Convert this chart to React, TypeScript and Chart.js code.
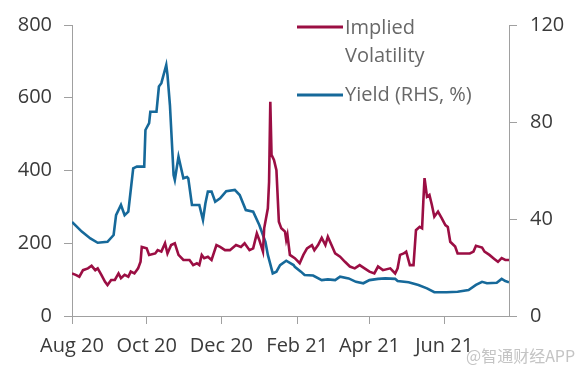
import React, { useEffect, useRef } from 'react';
import { Chart, registerables } from 'chart.js';

Chart.register(...registerables);

// x values are days since 1 Aug 2020
const ivDays = [0, 3, 6, 9, 13, 16, 19, 21, 24, 27, 29, 32, 35, 38, 40, 43, 46, 48, 51, 54, 56, 57, 61, 63, 68, 70, 73, 76, 78, 81, 84, 87, 91, 94, 96, 99, 102, 104, 106, 108, 111, 114, 118, 121, 125, 129, 134, 138, 141, 145, 148, 151, 153, 156, 157, 160, 161, 162, 163, 165, 167, 169, 171, 174, 175, 176, 178, 182, 186, 189, 192, 196, 198, 201, 204, 207, 209, 212, 215, 219, 223, 227, 231, 235, 239, 243, 247, 250, 254, 260, 264, 266, 268, 271, 273, 276, 279, 281, 284, 286, 287, 288, 290, 292, 294, 296, 299, 302, 305, 307, 309, 313, 315, 320, 325, 328, 330, 335, 337, 341, 345, 348, 351, 354, 357];
const ivValues = [117, 113, 108, 126, 131, 138, 126, 131, 113, 94, 85, 99, 99, 117, 104, 113, 108, 122, 117, 131, 149, 190, 186, 168, 172, 181, 177, 200, 172, 195, 200, 168, 154, 154, 154, 140, 145, 140, 168, 159, 163, 154, 195, 190, 181, 181, 195, 190, 200, 181, 186, 227, 209, 177, 241, 296, 369, 589, 443, 429, 401, 259, 241, 232, 209, 223, 168, 159, 145, 168, 186, 195, 181, 195, 215, 195, 218, 195, 172, 163, 149, 136, 131, 140, 131, 122, 117, 136, 126, 131, 117, 131, 168, 172, 177, 140, 140, 236, 245, 241, 314, 379, 328, 333, 305, 273, 287, 269, 250, 245, 204, 191, 172, 172, 172, 177, 193, 188, 177, 168, 157, 149, 159, 154, 154];

const yieldDays = [0, 8, 15, 21, 29, 34, 36, 40, 43, 46, 50, 53, 59, 60, 63, 64, 69, 71, 73, 77, 78, 80, 83, 84, 87, 91, 94, 95, 98, 104, 107, 109, 111, 114, 117, 121, 126, 133, 137, 142, 148, 153, 158, 160, 164, 167, 170, 175, 181, 182, 187, 190, 197, 204, 209, 215, 219, 226, 232, 238, 243, 250, 256, 264, 266, 275, 283, 290, 296, 306, 315, 324, 330, 335, 339, 347, 351, 354, 357];
const yieldValues = [38.8, 34.8, 32.0, 30.2, 30.6, 33.4, 41.6, 45.8, 41.6, 43.0, 60.9, 61.6, 61.6, 76.7, 79.5, 84.2, 84.2, 94.6, 96.0, 103.5, 99.4, 87.0, 58.1, 56.1, 65.7, 56.8, 57.3, 56.8, 45.8, 45.8, 39.6, 46.5, 51.3, 51.3, 47.1, 48.5, 51.5, 52.0, 49.9, 43.7, 43.0, 37.5, 30.6, 25.2, 17.6, 18.3, 21.0, 22.8, 21.0, 20.3, 18.3, 16.9, 16.7, 14.8, 15.1, 14.8, 16.2, 15.5, 14.1, 13.5, 14.8, 15.3, 15.5, 15.3, 14.4, 13.9, 12.8, 11.4, 9.8, 9.8, 10.0, 10.7, 12.8, 14.1, 13.5, 13.7, 15.3, 14.4, 13.9];

const xTickDays = [0, 61, 122, 184, 243, 304];
const xTickLabels = ['Aug 20', 'Oct 20', 'Dec 20', 'Feb 21', 'Apr 21', 'Jun 21'];
const seriesNames = ['Implied Volatility', 'Yield (RHS, %)'];
const legendLines = [['Implied', 'Volatility'], ['Yield (RHS, %)']];
const watermark = '@智通财经APP';

const IV_COLOR = '#9b0e43';
const YIELD_COLOR = '#16699a';
const AXIS_COLOR = '#a0a0a0';
const TICK_TEXT = '#3a3a3a';
const FONT = '"Open Sans", "DejaVu Sans", sans-serif';

const legendPlugin = {
  id: 'customLegend',
  afterDraw(chart: any) {
    const ctx = chart.ctx as CanvasRenderingContext2D;
    const rows = [
      { lineY: 27, baseY: 34, ds: 0 },
      { lineY: 95, baseY: 101, ds: 1 },
    ];
    ctx.save();
    ctx.font = `20px ${FONT}`;
    ctx.textAlign = 'left';
    ctx.textBaseline = 'alphabetic';
    rows.forEach((r) => {
      const ds = chart.data.datasets[r.ds];
      ctx.strokeStyle = ds.borderColor;
      ctx.lineWidth = 3;
      ctx.beginPath();
      ctx.moveTo(297, r.lineY);
      ctx.lineTo(343, r.lineY);
      ctx.stroke();
      ctx.fillStyle = '#686868';
      legendLines[r.ds].forEach((t, i) => {
        ctx.fillText(t, 345, r.baseY + i * 28);
      });
    });
    ctx.restore();
  },
};

export default function App() {
  const ref = useRef<HTMLCanvasElement>(null);
  useEffect(() => {
    if (!ref.current) return;
    const chart = new Chart(ref.current, {
      type: 'line',
      data: {
        datasets: [
          {
            label: seriesNames[0],
            data: ivDays.map((d, i) => ({ x: d, y: ivValues[i] })),
            borderColor: IV_COLOR,
            backgroundColor: IV_COLOR,
            borderWidth: 2.6,
            pointRadius: 0,
            tension: 0,
            yAxisID: 'y',
          },
          {
            label: seriesNames[1],
            data: yieldDays.map((d, i) => ({ x: d, y: yieldValues[i] })),
            borderColor: YIELD_COLOR,
            backgroundColor: YIELD_COLOR,
            borderWidth: 2.6,
            pointRadius: 0,
            tension: 0,
            yAxisID: 'y1',
          },
        ],
      },
      options: {
        responsive: false,
        animation: false,
        layout: { padding: { top: 25, left: 0, right: 0, bottom: 0 } },
        plugins: {
          legend: { display: false },
          tooltip: { enabled: false },
        },
        scales: {
          x: {
            type: 'linear',
            min: 0,
            max: 357,
            afterBuildTicks: (scale: any) => {
              scale.ticks = xTickDays.map((v) => ({ value: v }));
            },
            afterFit: (scale: any) => {
              scale.height = 58;
            },
            ticks: {
              autoSkip: false,
              maxRotation: 0,
              padding: 10,
              color: TICK_TEXT,
              font: { family: FONT, size: 20 },
              callback: (v: any) => {
                const idx = xTickDays.indexOf(Number(v));
                return idx >= 0 ? xTickLabels[idx] : '';
              },
            },
            grid: { drawOnChartArea: false, drawTicks: true, tickLength: 8, color: AXIS_COLOR },
            border: { display: true, color: AXIS_COLOR, width: 1 },
          },
          y: {
            position: 'left',
            min: 0,
            max: 800,
            afterFit: (scale: any) => {
              scale.width = 72;
            },
            ticks: {
              stepSize: 200,
              padding: 12,
              color: TICK_TEXT,
              font: { family: FONT, size: 20 },
            },
            grid: { drawOnChartArea: false, drawTicks: true, tickLength: 8, color: AXIS_COLOR },
            border: { display: true, color: AXIS_COLOR, width: 1 },
          },
          y1: {
            position: 'right',
            min: 0,
            max: 120,
            afterFit: (scale: any) => {
              scale.width = 74;
            },
            ticks: {
              stepSize: 40,
              padding: 13,
              color: TICK_TEXT,
              font: { family: FONT, size: 20 },
            },
            grid: { drawOnChartArea: false, drawTicks: true, tickLength: 8, color: AXIS_COLOR },
            border: { display: true, color: AXIS_COLOR, width: 1 },
          },
        },
      },
      plugins: [legendPlugin],
    } as any);
    return () => chart.destroy();
  }, []);

  return (
    <div style={{ position: 'absolute', left: 0, top: 0, width: 583, height: 374, background: '#fff' }}>
      <canvas ref={ref} width={583} height={374} style={{ display: 'block' }} />
      <div
        style={{
          position: 'absolute',
          left: 466,
          top: 343,
          fontFamily: '"Noto Sans CJK SC", sans-serif',
          fontSize: 16,
          color: '#c4c4c4',
          whiteSpace: 'nowrap',
        }}
      >
        {watermark}
      </div>
    </div>
  );
}
